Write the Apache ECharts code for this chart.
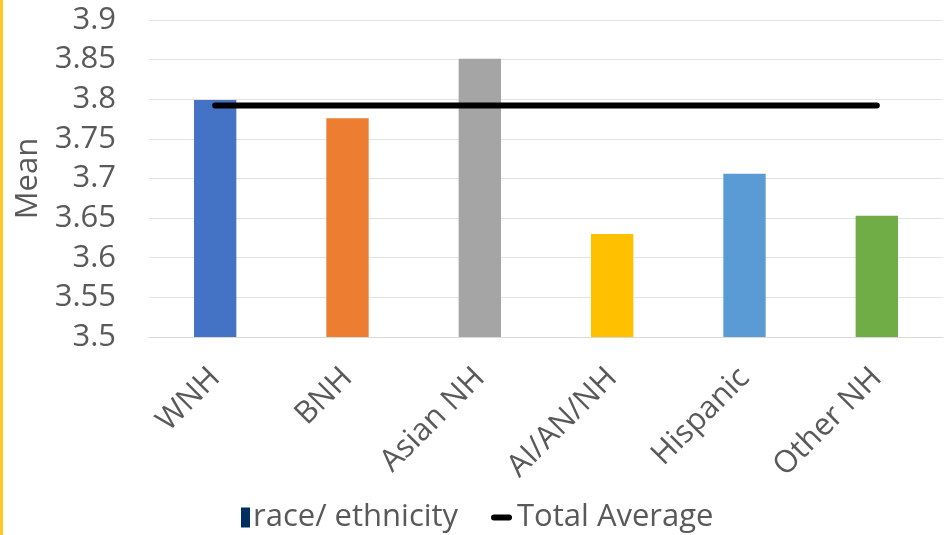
<!DOCTYPE html>
<html>
<head>
<meta charset="utf-8">
<script src="https://cdn.jsdelivr.net/npm/echarts@6/dist/echarts.min.js"></script>
<style>
  html, body { margin: 0; padding: 0; background: #ffffff; }
  #chart { width: 944px; height: 535px; }
</style>
</head>
<body>
<div id="chart"></div>
<script>
// Mean score by race/ethnicity, with the overall average drawn across the groups
const categories = ['WNH', 'BNH', 'Asian NH', 'AI/AN/NH', 'Hispanic', 'Other NH'];
const groupMeans = [3.799, 3.776, 3.851, 3.630, 3.706, 3.653];
const totalAverage = [3.792, 3.792, 3.792, 3.792, 3.792, 3.792];
const barColors = ['#4472C4', '#ED7D31', '#A5A5A5', '#FFC000', '#5B9BD5', '#70AD47'];
const yTicks = { min: 3.5, max: 3.9, step: 0.05 };

const FONT = '"Open Sans", "Noto Sans", sans-serif';
const TEXT = '#595959';
const FS = 31;

const chart = echarts.init(document.getElementById('chart'), null, { renderer: 'canvas' });

const legendText = { fontFamily: FONT, fontSize: FS, color: TEXT };

chart.setOption({
  animation: false,
  backgroundColor: '#ffffff',
  textStyle: { fontFamily: FONT, color: TEXT },
  graphic: [{
    type: 'rect',
    left: 0, top: 0,
    shape: { width: 3, height: 535 },
    style: { fill: '#FFC91F' },
    silent: true
  }],
  grid: { left: 149, right: 1, top: 20, bottom: 198, containLabel: false },
  legend: [
    {
      left: 241,
      top: 502,
      padding: 0,
      itemWidth: 9,
      itemHeight: 20,
      textStyle: Object.assign({ padding: [0, 0, 0, -2] }, legendText),
      data: [{ name: 'race/ ethnicity', icon: 'rect', itemStyle: { color: '#002F5F' } }]
    },
    {
      left: 491,
      top: 502,
      padding: 0,
      itemWidth: 21,
      itemHeight: 6,
      textStyle: legendText,
      data: [{ name: 'Total Average', icon: 'path://M3,0H18A3,3 0 0 1 18,6H3A3,3 0 0 1 3,0Z', itemStyle: { color: '#000000' } }]
    }
  ],
  xAxis: {
    type: 'category',
    data: categories,
    boundaryGap: true,
    axisLine: { show: true, lineStyle: { color: '#D9D9D9', width: 1 } },
    axisTick: { show: false },
    axisLabel: {
      rotate: 45,
      margin: 36,
      interval: 0,
      fontFamily: FONT,
      fontSize: FS,
      color: TEXT
    }
  },
  yAxis: {
    type: 'value',
    min: yTicks.min,
    max: yTicks.max,
    interval: yTicks.step,
    name: 'Mean',
    nameLocation: 'middle',
    nameGap: 87,
    nameTextStyle: { fontFamily: FONT, fontSize: FS, color: TEXT },
    axisLine: { show: false },
    axisTick: { show: false },
    splitLine: { show: true, lineStyle: { color: '#E3E3E3', width: 1 } },
    axisLabel: {
      margin: 33,
      fontFamily: FONT,
      fontSize: FS,
      color: TEXT,
      formatter: v => String(parseFloat(v.toFixed(2)))
    }
  },
  series: [
    {
      name: 'race/ ethnicity',
      type: 'bar',
      barWidth: '32%',
      itemStyle: { color: '#002F5F' },
      data: groupMeans.map((v, i) => ({ value: v, itemStyle: { color: barColors[i] } }))
    },
    {
      name: 'Total Average',
      type: 'line',
      data: totalAverage,
      symbol: 'none',
      lineStyle: { color: '#000000', width: 6, cap: 'round' },
      itemStyle: { color: '#000000' },
      z: 5
    }
  ]
});
</script>
</body>
</html>
